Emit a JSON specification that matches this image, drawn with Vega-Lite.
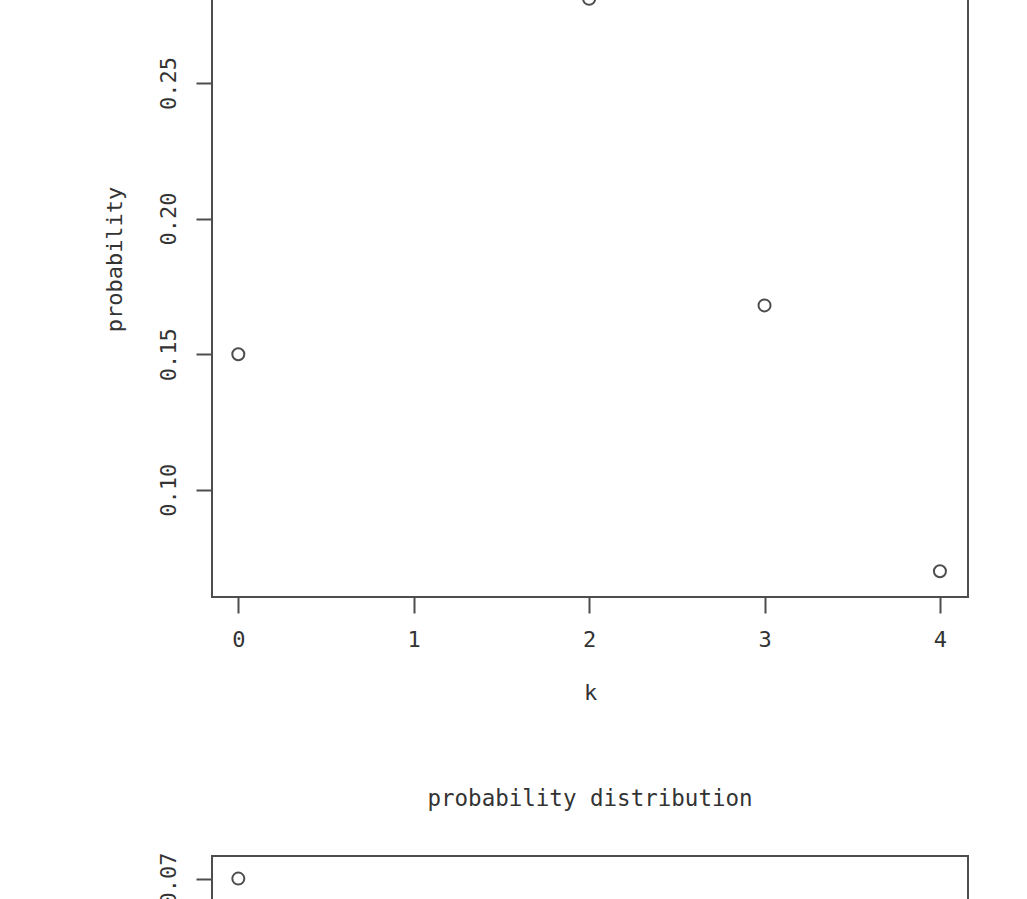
{
  "$schema": "https://vega.github.io/schema/vega-lite/v6.json",
  "background": "white",
  "padding": {"left": 102, "top": -81, "right": 0, "bottom": -730},
  "autosize": {"type": "pad"},
  "bounds": "flush",
  "spacing": 259,
  "config": {
    "view": {"stroke": "#4d4d4d", "strokeWidth": 2, "fill": "white"},
    "font": "DejaVu Sans Mono",
    "axis": {
      "grid": false,
      "domain": false,
      "ticks": true,
      "tickColor": "#4d4d4d",
      "tickWidth": 2,
      "tickSize": 16,
      "labelFont": "DejaVu Sans Mono",
      "labelFontSize": 22,
      "labelColor": "#333333",
      "labelFlush": false,
      "labelOverlap": false,
      "titleFont": "DejaVu Sans Mono",
      "titleFontSize": 22,
      "titleFontWeight": "normal",
      "titleColor": "#333333"
    },
    "title": {"font": "DejaVu Sans Mono", "fontSize": 22.5, "fontWeight": "normal", "color": "#333333"}
  },
  "vconcat": [
    {
      "width": 756,
      "height": 676,
      "data": {"values": [
        {"k": 0, "probability": 0.150},
        {"k": 1, "probability": 0.300},
        {"k": 2, "probability": 0.281},
        {"k": 3, "probability": 0.168},
        {"k": 4, "probability": 0.070}
      ]},
      "mark": {"type": "point", "shape": "circle", "filled": false, "size": 144, "strokeWidth": 2, "color": "#4d4d4d", "opacity": 1},
      "encoding": {
        "x": {"field": "k", "type": "quantitative",
          "scale": {"domain": [-0.15, 4.16], "nice": false, "zero": false},
          "axis": {"values": [0, 1, 2, 3, 4], "format": "d", "title": "k", "labelAngle": 0, "labelAlign": "center", "labelBaseline": "top", "labelPadding": 16, "titleY": 95, "titleBaseline": "middle"}},
        "y": {"field": "probability", "type": "quantitative",
          "scale": {"domain": [0.0605, 0.3097], "nice": false, "zero": false},
          "axis": {"values": [0.10, 0.15, 0.20, 0.25, 0.30], "format": ".2f", "labelAngle": 270, "labelAlign": "center", "labelBaseline": "bottom", "labelPadding": 16, "title": "probability", "titleAngle": 270, "titleX": -98, "titleBaseline": "middle"}}
      }
    },
    {
      "width": 756,
      "height": 676,
      "title": {"text": "probability distribution", "frame": "group", "anchor": "middle", "baseline": "alphabetic", "offset": 24},
      "data": {"values": [
        {"k": 0, "probability": 0.070}
      ]},
      "mark": {"type": "point", "shape": "circle", "filled": false, "size": 144, "strokeWidth": 2, "color": "#4d4d4d", "opacity": 1},
      "encoding": {
        "x": {"field": "k", "type": "quantitative",
          "scale": {"domain": [-0.15, 4.16], "nice": false, "zero": false},
          "axis": {"values": [0, 1, 2, 3, 4], "format": "d", "title": "k", "labelAngle": 0, "labelAlign": "center", "labelBaseline": "top", "labelPadding": 16, "titleY": 95, "titleBaseline": "middle"}},
        "y": {"field": "probability", "type": "quantitative",
          "scale": {"domain": [0.018, 0.0718], "nice": false, "zero": false},
          "axis": {"values": [0.02, 0.03, 0.04, 0.05, 0.06, 0.07], "format": ".2f", "labelAngle": 270, "labelAlign": "center", "labelBaseline": "bottom", "labelPadding": 16, "title": "probability", "titleAngle": 270, "titleX": -98, "titleBaseline": "middle"}}
      }
    }
  ]
}
